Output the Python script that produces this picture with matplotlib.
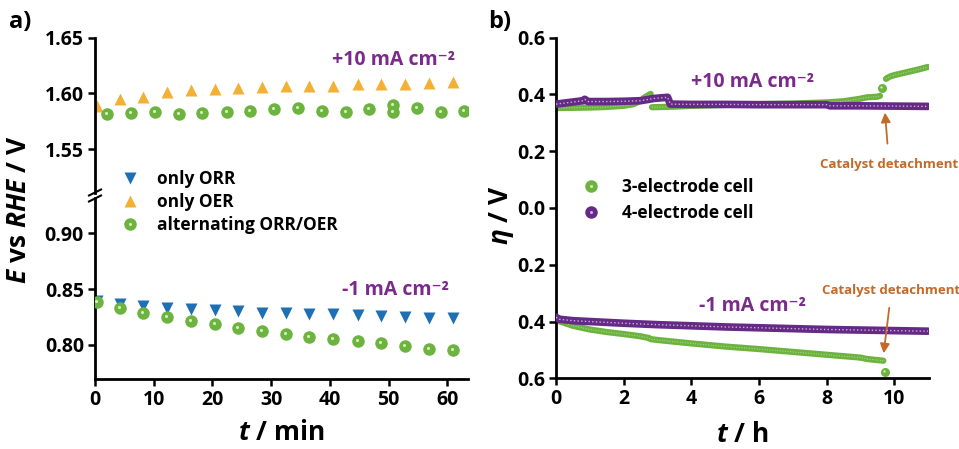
import numpy as np
import matplotlib.pyplot as plt
from matplotlib.lines import Line2D
from matplotlib.ticker import FuncFormatter
from matplotlib.transforms import offset_copy

plt.rcParams['font.family'] = ['Open Sans', 'DejaVu Sans']
plt.rcParams['font.weight'] = 'bold'
plt.rcParams['mathtext.fontset'] = 'custom'
plt.rcParams['mathtext.rm'] = 'Open Sans:bold'
plt.rcParams['mathtext.it'] = 'Open Sans:italic:bold'
plt.rcParams['mathtext.bf'] = 'Open Sans:bold'

# ---- panel a data (t in min, E in V vs RHE) ----
t_step = [0.3, 4.3, 8.2, 12.3, 16.3, 20.4, 24.4, 28.5, 32.5, 36.5, 40.6, 44.7, 48.7, 52.8, 56.9, 60.9]
e_only_oer = [1.589, 1.595, 1.597, 1.601, 1.603, 1.604, 1.605, 1.606, 1.607, 1.607, 1.607, 1.608, 1.608, 1.608, 1.609, 1.610]
e_only_orr = [0.839, 0.837, 0.835, 0.833, 0.832, 0.831, 0.830, 0.829, 0.8285, 0.8276, 0.8273, 0.8264, 0.8255, 0.8249, 0.8243, 0.8237]
e_alt_orr = [0.8386, 0.8333, 0.8288, 0.8246, 0.8213, 0.8184, 0.8153, 0.8124, 0.8097, 0.8073, 0.8052, 0.8034, 0.8013, 0.7992, 0.7968, 0.7953]
t_alt_oer = [2.1, 6.1, 10.2, 14.3, 18.3, 22.4, 26.4, 30.5, 34.6, 38.6, 42.7, 46.7, 50.8, 50.8, 54.8, 58.9, 62.9]
e_alt_oer = [1.5815, 1.582, 1.583, 1.5815, 1.582, 1.5836, 1.5845, 1.5857, 1.587, 1.584, 1.583, 1.586, 1.5896, 1.583, 1.5866, 1.5836, 1.584]

# ---- panel b data (t in h, eta in V) ----
t4_ox = [0, 0.4, 0.8, 0.85, 0.95, 1.5, 2.0, 2.5, 2.9, 3.3, 3.38, 4, 5, 6, 7, 8, 8.1, 9, 10, 11]
eta4_ox = [0.366, 0.372, 0.378, 0.383, 0.375, 0.375, 0.376, 0.378, 0.386, 0.39, 0.366, 0.365, 0.365, 0.364,
           0.364, 0.364, 0.360, 0.360, 0.359, 0.358]
t3_ox = [0, 0.5, 1.0, 1.5, 2.0, 2.3, 2.5, 2.65, 2.8, np.nan, 2.84, 3.5, 4, 5, 6, 7, 8, 8.5, 9.0, 9.2, 9.5, 9.58,
         np.nan, 9.76, 9.85, 10, 10.25, 10.5, 10.75, 11.0]
eta3_ox = [0.352, 0.353, 0.354, 0.356, 0.36, 0.366, 0.378, 0.392, 0.402, np.nan, 0.355, 0.357, 0.36, 0.363,
           0.366, 0.368, 0.372, 0.376, 0.385, 0.39, 0.392, 0.395, np.nan, 0.455, 0.462, 0.468, 0.475, 0.482,
           0.489, 0.497]
t4_red = [0, 0.1, 0.5, 1, 2, 3, 4, 5, 6, 7, 8, 9, 10, 11]
eta4_red = [-0.385, -0.392, -0.397, -0.40, -0.406, -0.411, -0.415, -0.419, -0.422, -0.425, -0.428, -0.43,
            -0.432, -0.434]
t3_red = [0, 0.25, 0.5, 1, 1.5, 2, 2.5, 2.75, 2.8, 3, 4, 5, 6, 7, 8, 9, 9.2, 9.68]
eta3_red = [-0.395, -0.405, -0.415, -0.428, -0.437, -0.444, -0.452, -0.458, -0.462, -0.465, -0.477, -0.488,
            -0.497, -0.507, -0.517, -0.527, -0.532, -0.538]
t3_jump = [9.64, 9.72]
eta3_jump = [0.422, -0.577]

blue = '#1f6fb5'
orange = '#f2b134'
green = '#6cb33f'
green_hi = '#d6f0bb'
purple = '#642a86'
purple_hi = '#cdb0dc'
label_purple = '#7a2a8a'
brown = '#c46a28'

W, H = 959, 449
fig = plt.figure(figsize=(9.59, 4.49), dpi=100)


def fx(px):
    return px / W


def fy(py):
    return 1 - py / H


def style(ax):
    for s in ['top', 'right']:
        ax.spines[s].set_visible(False)
    for s in ['left', 'bottom']:
        ax.spines[s].set_linewidth(2)
    ax.tick_params(direction='out', length=5, width=1.8, labelsize=14, pad=3)


def spheres(ax, x, y, ms=9, zorder=3):
    # green ball with a small light spot up and to the left
    ax.plot(x, y, 'o', color=green, ms=ms, mec='none', zorder=zorder)
    spot = offset_copy(ax.transData, fig=fig, x=-1.0, y=1.0, units='dots')
    ax.plot(x, y, 'o', color=green_hi, ms=ms * 0.25, mec='none', zorder=zorder + 0.1, transform=spot)


# panel a: broken axis
ax_top = fig.add_axes([fx(95), fy(193), fx(468 - 95), fy(37.7) - fy(193)])
ax_bot = fig.add_axes([fx(95), fy(379), fx(468 - 95), fy(198) - fy(379)])
for ax in (ax_top, ax_bot):
    style(ax)
    ax.set_xlim(0, 63.5)
ax_top.spines['bottom'].set_visible(False)
ax_top.tick_params(axis='x', bottom=False, labelbottom=False)
ax_top.set_ylim(1.5106, 1.65)
ax_top.set_yticks([1.55, 1.60, 1.65])
ax_top.yaxis.set_major_formatter(FuncFormatter(lambda v, p: f'{v:.2f}'))
ax_bot.set_ylim(0.7695, 0.9316)
ax_bot.set_yticks([0.80, 0.85, 0.90])
ax_bot.yaxis.set_major_formatter(FuncFormatter(lambda v, p: f'{v:.2f}'))
ax_bot.set_xticks([0, 10, 20, 30, 40, 50, 60])

ax_top.plot(t_step, e_only_oer, '^', color=orange, ms=9, mec='none')
spheres(ax_top, t_alt_oer, e_alt_oer)
ax_bot.plot(t_step, e_only_orr, 'v', color=blue, ms=9, mec='none')
spheres(ax_bot, t_step, e_alt_orr)

ax_top.text(50.8, 1.630, '+10 mA cm⁻²', color=label_purple, fontsize=14, ha='center', va='center')
ax_bot.text(51.1, 0.849, '-1 mA cm⁻²', color=label_purple, fontsize=14, ha='center', va='center')

# break marks
for yy in (192.5, 198.5):
    fig.add_artist(Line2D([fx(89), fx(101)], [fy(yy + 3), fy(yy - 3)], color='k', lw=1.5,
                          transform=fig.transFigure))

h_orr = Line2D([], [], ls='none', marker='v', color=blue, ms=9, mec='none')
h_oer = Line2D([], [], ls='none', marker='^', color=orange, ms=9, mec='none')
h_alt = (Line2D([], [], ls='none', marker='o', color=green, ms=9, mec='none'),
         Line2D([], [], ls='none', marker='o', color=green_hi, ms=2.2, mec='none'))
fig.legend([h_orr, h_oer, h_alt], ['only ORR', 'only OER', 'alternating ORR/OER'],
           loc='upper left', bbox_to_anchor=(fx(121), fy(170)), frameon=False, fontsize=12.5,
           handlelength=1.0, handletextpad=1.1, labelspacing=0.3, borderpad=0, borderaxespad=0)

fig.text(fx(19), fy(210), r'$E$ vs $RHE$ / V', rotation=90, ha='center', va='center', fontsize=19)
fig.text(fx(281), fy(432), r'$t$ / min', ha='center', va='center', fontsize=19)
fig.text(fx(20), fy(22), 'a)', ha='center', va='center', fontsize=17)

# panel b
axb = fig.add_axes([fx(556), fy(378.3), fx(929.3 - 556), fy(37.7) - fy(378.3)])
style(axb)
axb.set_xlim(0, 11.04)
axb.set_ylim(-0.6, 0.6)
axb.set_xticks([0, 2, 4, 6, 8, 10])
axb.set_yticks([-0.6, -0.4, -0.2, 0.0, 0.2, 0.4, 0.6])
axb.yaxis.set_major_formatter(FuncFormatter(lambda v, p: f'{abs(v):.1f}'))

axb.plot(t3_ox, eta3_ox, '-', color=green, lw=4.5, solid_capstyle='round', zorder=2)
axb.plot(t3_ox, eta3_ox, ':', color=green_hi, lw=0.7, alpha=0.7, zorder=2.1)
axb.plot(t3_red, eta3_red, '-', color=green, lw=4.5, solid_capstyle='round', zorder=2)
axb.plot(t3_red, eta3_red, ':', color=green_hi, lw=0.7, alpha=0.7, zorder=2.1)
spheres(axb, t3_jump, eta3_jump, ms=6.5, zorder=2)
axb.plot(t4_ox, eta4_ox, '-', color=purple, lw=5.5, solid_capstyle='round', zorder=3)
axb.plot(t4_ox, eta4_ox, ':', color=purple_hi, lw=1.0, zorder=3.1)
axb.plot(t4_red, eta4_red, '-', color=purple, lw=5.5, solid_capstyle='round', zorder=3)
axb.plot(t4_red, eta4_red, ':', color=purple_hi, lw=1.0, zorder=3.1)

axb.text(5.8, 0.445, '+10 mA cm⁻²', color=label_purple, fontsize=14, ha='center', va='center')
axb.text(5.8, -0.345, '-1 mA cm⁻²', color=label_purple, fontsize=14, ha='center', va='center')

axb.annotate('Catalyst detachment', xy=(9.73, 0.336), xytext=(9.85, 0.155), color=brown, fontsize=9.5,
             ha='center', va='center',
             arrowprops=dict(arrowstyle='-|>', color=brown, lw=1.3, mutation_scale=14, shrinkA=8, shrinkB=0))
axb.annotate('Catalyst detachment', xy=(9.69, -0.512), xytext=(9.92, -0.29), color=brown, fontsize=9.5,
             ha='center', va='center',
             arrowprops=dict(arrowstyle='-|>', color=brown, lw=1.3, mutation_scale=14, shrinkA=6, shrinkB=0))

h3 = (Line2D([], [], ls='none', marker='o', color=green, ms=9, mec='none'),
      Line2D([], [], ls='none', marker='o', color=green_hi, ms=2.2, mec='none'))
h4 = (Line2D([], [], ls='none', marker='o', color=purple, ms=9, mec='none'),
      Line2D([], [], ls='none', marker='o', color=purple_hi, ms=2.2, mec='none'))
fig.legend([h3, h4], ['3-electrode cell', '4-electrode cell'], loc='upper left',
           bbox_to_anchor=(fx(582), fy(178)), frameon=False, fontsize=12.5,
           handlelength=1.0, handletextpad=1.3, labelspacing=0.45, borderpad=0, borderaxespad=0)

fig.text(fx(502), fy(215), r'$\eta$ / V', rotation=90, ha='center', va='center', fontsize=19)
fig.text(fx(742), fy(434), r'$t$ / h', ha='center', va='center', fontsize=19)
fig.text(fx(500), fy(22), 'b)', ha='center', va='center', fontsize=17)

fig.savefig('out.png', dpi=100)
